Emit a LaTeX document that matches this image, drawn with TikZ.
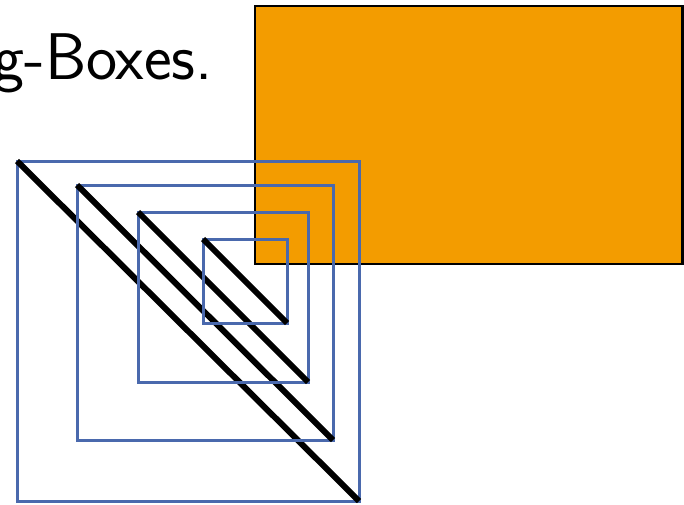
\documentclass[tikz,border=0pt]{standalone}
\usepackage{tikz}
\definecolor{boxblue}{HTML}{4A69AD}
\definecolor{boxorange}{HTML}{F39C00}
\begin{document}
\begin{tikzpicture}[x=1pt,y=-1pt,
  nest/.style={draw=boxblue,line width=3pt},
  diag/.style={draw=black,line width=6pt}]
  \clip (0,0) rectangle (684,504);
  \node[font=\sffamily\fontsize{66}{72}\selectfont,anchor=base east,inner sep=0pt] (title) at (213,79) {g-Boxes.};
  \draw[draw=black,fill=boxorange,line width=2.8pt] (255,6) rectangle (682.5,264);
  \foreach \xa/\ya/\xb/\yb in {17/161/359/501,77/185/333/440,138/212/308/382,203/239/287/323} {
    \draw[nest] (\xa,\ya) rectangle (\xb,\yb);
    \draw[diag] (\xa,\ya) -- (\xb,\yb);
  }
\end{tikzpicture}
\end{document}
